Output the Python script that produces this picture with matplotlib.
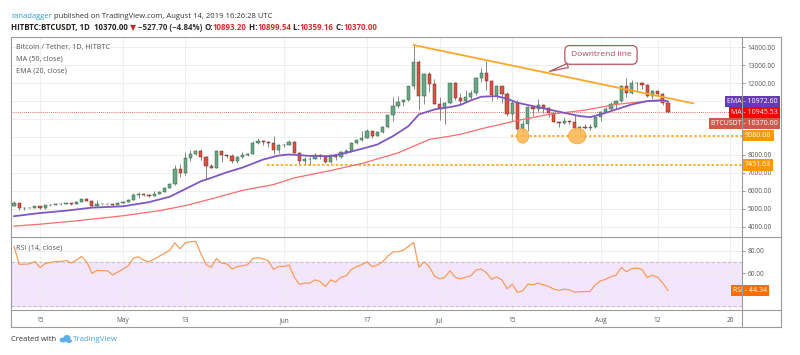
import numpy as np
import pandas as pd
import matplotlib
matplotlib.use("Agg")
import matplotlib.pyplot as plt
import matplotlib.dates as mdates
from matplotlib.patches import Ellipse
from matplotlib.lines import Line2D

plt.rcParams['font.family'] = ['Open Sans', 'DejaVu Sans']

# daily candles, HITBTC BTCUSDT, 2019-04-10 .. 2019-08-14
dates = pd.date_range('2019-04-10', '2019-08-14', freq='D')
opens = [5180, 5310, 5030, 5070, 5070, 5160, 5030, 5210, 5240, 5290, 5290, 5330, 5300, 5400, 5560, 5450, 5170, 5260, 5270, 5250, 5220,
         5340, 5400, 5510, 5790, 5820, 5800, 5730, 5860, 5970, 6170, 6370, 7230, 7000, 7850, 8050, 8200, 7880, 7380, 7280, 8200, 8000, 7960, 7640, 7880, 8000, 8060, 8650, 8780, 8730, 8660, 8270,
         8540, 8560, 8740, 8120, 7650, 7780, 7800, 8000, 7930, 7620, 7990, 7900, 8150, 8230, 8660, 8830, 8960, 9330, 9050, 9280, 9540, 10210, 10720, 10940, 11080, 11830, 13150, 11300, 12500, 11950,
         10860, 10600, 10900, 11980, 11150, 10980, 11250, 11470, 12300, 12580, 12100, 11350, 11820, 11380, 10260, 10870, 9420, 9700, 10650, 10530, 10770, 10600, 10330, 9860, 9780, 9880, 9850, 9480, 9540, 9520, 9540,
         10090, 10400, 10530, 10820, 10980, 11820, 11470, 11980, 11990, 11870, 11300, 11550, 11390, 10893.20]
highs = [5440, 5330, 5100, 5110, 5190, 5190, 5230, 5280, 5330, 5340, 5360, 5350, 5420, 5620, 5620, 5520, 5500, 5300, 5300, 5260, 5370,
         5420, 5540, 5900, 5920, 5860, 5830, 5990, 6000, 6200, 6420, 7450, 7520, 8150, 8300, 8270, 8350, 7950, 7480, 8250, 8200, 8070, 8040, 7950, 8140, 8130, 8750, 8950, 8830, 8780, 9050, 8590,
         8620, 8810, 8750, 8140, 7900, 7880, 8100, 8050, 7960, 8050, 8030, 8200, 8320, 8700, 8850, 9360, 9450, 9350, 9330, 9620, 10250, 11200, 11300, 11100, 11850, 14110, 13300, 12580, 12600, 12200,
         11200, 10950, 12000, 12050, 11450, 11600, 11600, 12350, 12850, 13250, 12150, 11900, 11850, 11480, 11050, 11050, 9950, 10750, 10760, 11100, 10850, 10650, 10330, 9900, 10100, 9900, 10200, 9600, 9700, 9750, 10120,
         10450, 10660, 10920, 11070, 11900, 12300, 12150, 12080, 12050, 11950, 11600, 11580, 11450, 10899.54]
lows = [5150, 4970, 4920, 5040, 5030, 4990, 5020, 5180, 5230, 5230, 5270, 5230, 5290, 5390, 5420, 5100, 5150, 5210, 5220, 5160, 5200,
        5320, 5390, 5500, 5600, 5740, 5650, 5720, 5810, 5960, 6140, 6350, 6800, 6900, 7650, 8000, 7700, 6650, 7250, 7270, 7600, 7830, 7570, 7530, 7840, 7970, 8040, 8630, 8580, 8460, 8050, 8090,
        8460, 8530, 8100, 7450, 7470, 7450, 7750, 7800, 7550, 7530, 7720, 7830, 8070, 8160, 8620, 8800, 8950, 8950, 9040, 9220, 9520, 9900, 10600, 10750, 11000, 11650, 10500, 10850, 11500, 10850,
        9950, 9700, 10850, 11050, 10850, 10970, 11100, 11350, 12050, 11600, 11000, 11100, 10900, 10150, 9900, 9400, 9080, 9320, 10150, 10400, 10350, 10100, 9850, 9550, 9750, 9700, 9350, 9110, 9420, 9400, 9520,
        9880, 10340, 10500, 10570, 10970, 11250, 11400, 11550, 11680, 11250, 11100, 11300, 10800, 10359.16]
closes = [5310, 5030, 5070, 5070, 5160, 5030, 5210, 5240, 5290, 5290, 5330, 5300, 5400, 5560, 5450, 5170, 5260, 5270, 5250, 5220, 5340,
          5400, 5510, 5790, 5820, 5800, 5730, 5860, 5970, 6170, 6370, 7230, 7000, 7850, 8050, 8200, 7880, 7380, 7280, 8200, 8000, 7960, 7640, 7880, 8000, 8060, 8650, 8780, 8730, 8660, 8270, 8540,
          8560, 8740, 8120, 7650, 7780, 7800, 8000, 7930, 7620, 7990, 7900, 8150, 8230, 8660, 8830, 8960, 9330, 9050, 9280, 9540, 10210, 10720, 10940, 11080, 11830, 13150, 11300, 12500, 11950, 10860,
          10600, 10900, 11980, 11150, 10980, 11250, 11470, 12300, 12580, 12100, 11350, 11820, 11380, 10260, 10870, 9420, 9700, 10650, 10530, 10770, 10600, 10330, 9860, 9780, 9880, 9850, 9480, 9540, 9520, 9540, 10090,
          10400, 10530, 10820, 10980, 11820, 11470, 11980, 11990, 11870, 11300, 11550, 11390, 10893.20, 10370.00]

rsi = [84.1, 68, 68, 68.4, 70.5, 65, 68.7, 69.6, 70.5, 70.5, 71.4, 69.3, 71.7, 75, 70.2, 59.9, 62.5, 62.2, 62.2, 58.4, 61,
       63.7, 66.7, 73.5, 74.7, 71.7, 70.2, 72.6, 75.3, 77.9, 80.6, 87.4, 82, 87.4, 88.3, 88.6, 77.6, 67.6, 65.2, 73.2, 69, 68.4, 63.7, 65.8, 66.7, 67.6, 73.2, 74.1, 72.9, 71.1, 63.4, 66,
       66, 67.3, 56.3, 49.8, 51, 51, 53.9, 52.4, 48, 53.9, 52.1, 56.3, 57.5, 63.4, 65.8, 67.6, 70.2, 65.8, 67.3, 70.2, 75.3, 79.1, 79.4, 80.6, 84.1, 87.7, 65.2, 70.2, 65.8, 57.5,
       54.8, 56.3, 62.2, 56.3, 54.8, 56.3, 57.5, 62.8, 63.7, 60.4, 54.5, 56.6, 53.9, 45.9, 50.1, 42.7, 44.1, 50.1, 49.5, 51, 49.5, 48, 45.6, 44.4, 45.6, 45, 42.7, 43.3, 43.3, 43.6, 49.5,
       53, 54.5, 56.9, 58.1, 65.2, 61.3, 64, 64.6, 63.4, 56, 58.1, 56.3, 51, 44.34]

ma_dates = ['2019-04-10', '2019-04-15', '2019-04-22', '2019-05-01', '2019-05-08', '2019-05-13', '2019-05-18', '2019-05-24',
            '2019-05-30', '2019-06-03', '2019-06-10', '2019-06-16', '2019-06-23', '2019-06-29', '2019-07-03', '2019-07-05',
            '2019-07-09', '2019-07-16', '2019-07-22', '2019-07-29', '2019-08-04', '2019-08-07', '2019-08-10', '2019-08-12',
            '2019-08-13', '2019-08-14']
ma_vals = [4050, 4155, 4342, 4624, 4906, 5188, 5563, 6033, 6357, 6729, 7137, 7526, 8120, 8862, 9047, 9150,
           9455, 9919, 10253, 10494, 10809, 10900, 10990, 11000, 10980, 10945.53]

ema_dates = ['2019-04-10', '2019-04-15', '2019-04-20', '2019-04-25', '2019-05-01', '2019-05-06', '2019-05-10', '2019-05-13',
             '2019-05-16', '2019-05-18', '2019-05-21', '2019-05-24', '2019-05-28', '2019-05-31', '2019-06-02', '2019-06-06',
             '2019-06-10', '2019-06-13', '2019-06-16', '2019-06-19', '2019-06-22', '2019-06-25', '2019-06-27', '2019-06-30',
             '2019-07-03', '2019-07-05', '2019-07-07', '2019-07-09', '2019-07-12', '2019-07-14', '2019-07-16', '2019-07-19',
             '2019-07-22', '2019-07-25', '2019-07-28', '2019-07-30', '2019-08-01', '2019-08-04', '2019-08-07', '2019-08-10',
             '2019-08-13', '2019-08-14']
ema_vals = [4600, 4775, 4906, 5075, 5150, 5380, 5680, 6110, 6540, 6730, 7040, 7300, 7749, 7971, 8030, 7950,
            7934, 8120, 8342, 8583, 9047, 9604, 10253, 10531, 10661, 10780, 11032, 11236, 11273, 11125, 10902, 10717,
            10531, 10346, 10160, 10105, 10253, 10531, 10809, 10995, 11050, 10972.60]

trend_dates = ['2019-06-26 00:00', '2019-08-18 21:00']
trend_vals = [14110, 10870]
support_price, support_start = 9080.00, '2019-07-14 18:00'
support2_price, support2_start = 7451.63, '2019-05-28 17:00'
last_price = 10370.00

price_ticks = list(range(4000, 15000, 1000))
hidden_ticks = [9000, 10000, 11000]   # covered by the value tags in the original
tick_dates = ['2019-04-15', '2019-05-01', '2019-05-13', '2019-06-01', '2019-06-17',
              '2019-07-01', '2019-07-15', '2019-08-01', '2019-08-12', '2019-08-26']
tick_labels = ['15', 'May', '13', 'Jun', '17', 'Jul', '15', 'Aug', '12', '26']

W, H = 800, 355
def fx(px):
    return px / W
def fy(py):
    return 1 - py / H
def dnum(s):
    return mdates.date2num(pd.Timestamp(s))

GRID = '#ececec'
FRAME = '#9b9b9b'
TXT = '#555555'
UP, UP_E = '#6ba583', '#2f6a47'
DN, DN_E = '#d75442', '#7a2a20'

fig = plt.figure(figsize=(8, 3.55), dpi=100)
fig.patch.set_facecolor('white')
L, R = 11, 742
ax = fig.add_axes([fx(L), fy(237), fx(R - L), (237 - 37) / H])
axr = fig.add_axes([fx(L), fy(310), fx(R - L), (310 - 237) / H], sharex=ax)

x = mdates.date2num(dates)
o = np.array(opens); h = np.array(highs); l = np.array(lows); c = np.array(closes)
up = c >= o

# candles
ax.vlines(x, l, h, color='#737375', lw=0.6, zorder=3)
ax.bar(x[up], (c - o)[up], bottom=o[up], width=0.62, color=UP, edgecolor=UP_E, lw=0.35, zorder=4)
ax.bar(x[~up], (o - c)[~up], bottom=c[~up], width=0.62, color=DN, edgecolor=DN_E, lw=0.35, zorder=4)

ax.plot([dnum(d) for d in ma_dates], ma_vals, color='#ff6b6b', lw=0.9, zorder=5)
ax.plot([dnum(d) for d in ema_dates], ema_vals, color='#7e57c2', lw=1.3, zorder=5)

x0 = dnum('2019-04-09 10:00')
x1 = dnum('2019-04-15') + 135.26
ax.set_xlim(x0, x1)
ax.set_ylim(3444, 14556)

ax.axhline(last_price, color='#e53935', ls=(0, (1, 1.5)), lw=0.6, zorder=2)
ax.hlines(support_price, dnum(support_start), x1, colors='#ff9800',
          linestyles=(0, (1.6, 1.4)), lw=1.1, zorder=3)
ax.hlines(support2_price, dnum(support2_start), x1, colors='#ff9800',
          linestyles=(0, (1.6, 1.4)), lw=1.1, zorder=3)
ax.plot([dnum(d) for d in trend_dates], trend_vals, color='#ffa726', lw=1.3, zorder=6)

for cd, w, hh in [('2019-07-17 00:00', 2.3, 810), ('2019-07-27 12:00', 3.4, 870)]:
    ax.add_patch(Ellipse((dnum(cd), 9060), w, hh,
                         fc='#ffb74d', ec='#f0a030', lw=0.6, alpha=0.85, zorder=7))

ax.annotate('Downtrend line',
            xy=(dnum('2019-07-21 16:00'), 12600),
            xytext=(dnum('2019-08-01 02:00'), 13560),
            ha='center', va='center', fontsize=6, color='#b0474f', zorder=8,
            bbox=dict(boxstyle='round,pad=0.7,rounding_size=0.6', fc='white', ec='#b5565e', lw=0.9),
            arrowprops=dict(arrowstyle='wedge,tail_width=0.5,shrink_factor=0.5', fc='white', ec='#b5565e', lw=0.9))

# RSI
axr.axhspan(30, 70, color='#f3e5fc', zorder=0)
axr.axhline(70, color='#c4c4c4', ls=(0, (3, 2)), lw=0.8, zorder=1)
axr.axhline(30, color='#c4c4c4', ls=(0, (3, 2)), lw=0.8, zorder=1)
axr.plot(x, rsi, color='#f89c5a', lw=0.9, zorder=4)
axr.set_ylim(26.75, 92.6)

# grids, ticks
tx = [dnum(d) for d in tick_dates]
for a in (ax, axr):
    for s in a.spines.values():
        s.set_visible(False)
    a.set_xticks(tx)
    a.grid(True, color=GRID, lw=0.6, zorder=0)
    a.set_axisbelow(True)
    a.yaxis.tick_right()
    a.tick_params(axis='y', length=2.5, width=0.6, color='#8a8a8a', labelsize=4.7, labelcolor=TXT, pad=1.5)
ax.set_yticks(price_ticks)
ax.set_yticklabels(['' if v in hidden_ticks else f'{v:.2f}' for v in price_ticks])
axr.set_yticks([40, 60, 80])
axr.set_yticklabels(['', '60.00', '80.00'])
ax.tick_params(axis='x', length=0, labelbottom=False)
axr.tick_params(axis='x', length=0, labelsize=4.7, labelcolor=TXT, pad=5)
axr.set_xticklabels(tick_labels)

# frame lines
for (xa, ya, xb, yb) in [(11, 37, 781, 37), (11, 327, 781, 327), (11, 37, 11, 327), (781, 37, 781, 327),
                         (742, 37, 742, 327), (11, 237, 781, 237), (11, 310, 781, 310)]:
    fig.add_artist(Line2D([fx(xa), fx(xb)], [fy(ya), fy(yb)], transform=fig.transFigure, color=FRAME, lw=0.8))

# value tags on price scale
def tag(a, value, text, color, xpx, ha, dy=0):
    a.annotate(text, xy=(1, value), xycoords=('axes fraction', 'data'),
               xytext=(xpx - R, -dy), textcoords='offset pixels', ha=ha, va='center',
               fontsize=5, color='white', annotation_clip=False, zorder=20,
               bbox=dict(boxstyle='square,pad=0.32', fc=color, ec='none'))

tag(ax, ema_vals[-1], f'EMA - {ema_vals[-1]:.2f}', '#673ab7', 778, 'right')
tag(ax, ma_vals[-1], f'MA - {ma_vals[-1]:.2f}', '#ff0000', 778, 'right', dy=11)
tag(ax, last_price, f'BTCUSDT - {last_price:.2f}', '#d0574b', 778, 'right', dy=11)
tag(ax, support_price, f'{support_price:.2f}', '#ff9800', 745, 'left')
tag(ax, support2_price, f'{support2_price:.2f}', '#ff9800', 745, 'left')
tag(axr, rsi[-1], f'RSI - {rsi[-1]:.2f}', '#ff6d00', 767, 'right')

# header / legends
renderer = fig.canvas.get_renderer()
def run(xp, yp, parts, size):
    for s, col, wt in parts:
        t = fig.text(fx(xp), fy(yp), s, color=col, fontsize=size, fontweight=wt, ha='left', va='center')
        xp += t.get_window_extent(renderer=renderer).width

RED = '#d32f2f'
run(11, 17, [('ranadagger', '#2a9be0', 'normal'),
             (' published on TradingView.com, August 14, 2019 16:26:28 UTC', '#333333', 'normal')], 5.5)
run(11, 27.5, [('HITBTC:BTCUSDT, 1D  ', '#222222', 'bold'), ('10370.00 ', '#222222', 'bold'),
               ('▼', '#c62828', 'bold'), (' \u2212527.70 (\u22124.84%) ', '#333333', 'bold'),
               ('O:', '#222222', 'bold'), ('10893.20', RED, 'bold'), (' H:', '#222222', 'bold'),
               ('10899.54', RED, 'bold'), (' L:', '#222222', 'bold'), ('10359.16', RED, 'bold'),
               (' C:', '#222222', 'bold'), ('10370.00', RED, 'bold')], 5.7)

fig.text(fx(16), fy(48), 'Bitcoin / Tether, 1D, HITBTC', fontsize=5.2, color=TXT, va='center')
fig.text(fx(16), fy(59.5), 'MA (50, close)', fontsize=5.2, color=TXT, va='center')
fig.text(fx(16), fy(71), 'EMA (20, close)', fontsize=5.2, color=TXT, va='center')
fig.text(fx(16), fy(248), 'RSI (14, close)', fontsize=5.2, color=TXT, va='center')

run(11, 339.5, [('Created with ', '#333333', 'normal')], 5.5)
for (cx, cy, rw, rh) in [(63, 340, 7, 5), (67, 338, 7, 6), (69, 341, 6, 4)]:
    fig.add_artist(Ellipse((fx(cx), fy(cy)), rw / W, rh / H, transform=fig.transFigure, fc='#5fb0e6', ec='none'))
run(73, 339.5, [('TradingView', '#4aa3df', 'normal')], 5.7)

fig.savefig('out.png', dpi=100, facecolor='white')
